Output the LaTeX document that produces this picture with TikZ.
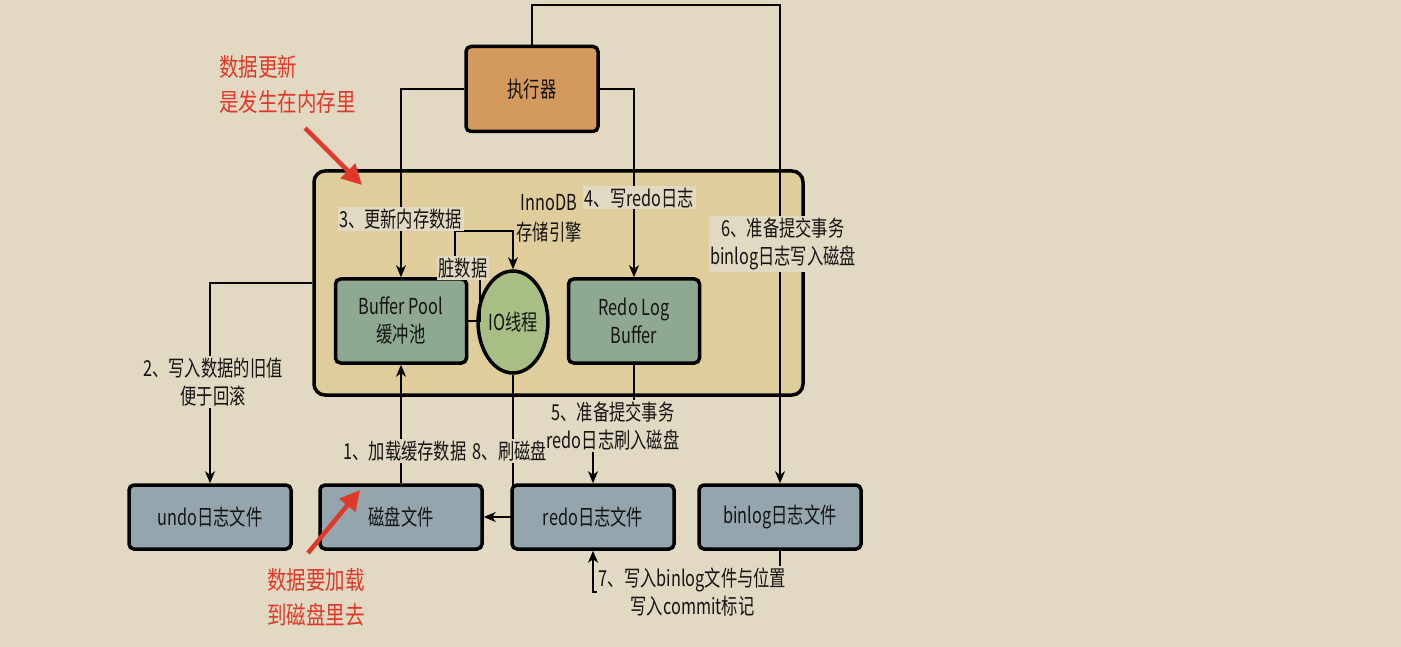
\documentclass[tikz,border=0pt]{standalone}
\usepackage{fontspec}
\setmainfont{Noto Sans CJK SC}[FakeStretch=0.74]
\newfontfamily\notefont{Noto Sans CJK SC}[FakeStretch=0.78]
\usetikzlibrary{arrows.meta,shapes.geometric}

\definecolor{pagebg}{HTML}{E1D9C1}
\definecolor{enginefill}{HTML}{DFCD9B}
\definecolor{execfill}{HTML}{D4995D}
\definecolor{memfill}{HTML}{8FA891}
\definecolor{iofill}{HTML}{A9BE84}
\definecolor{filefill}{HTML}{95A5AE}
\definecolor{notered}{HTML}{E0392B}
\definecolor{ink}{HTML}{141414}

\tikzset{
  txt/.style={text=ink, align=center, font=\fontsize{22}{28}\selectfont},
  box/.style={txt, draw=black, line width=3.5pt, rounded corners=5pt, inner sep=0pt},
  membox/.style={box, fill=memfill, minimum width=131pt, minimum height=84pt},
  filebox/.style={box, fill=filefill, minimum width=162pt, minimum height=64pt},
  link/.style={line width=1.5pt, draw=black},
  arrow/.style={link, -{Stealth[length=12pt,width=10pt,inset=3.5pt]}},
  tag/.style={txt, fill=pagebg, inner sep=1.5pt},
  note/.style={text=notered, align=left, inner sep=0pt,
    font=\notefont\fontsize{25}{35}\selectfont},
  notearrow/.style={draw=notered, line width=4.5pt,
    -{Triangle[length=20pt,width=20pt]}},
}

\begin{document}
\begin{tikzpicture}[x=1pt, y=-1pt]
  \useasboundingbox (0,0) rectangle (1401,647);
  \fill[pagebg] (0,0) rectangle (1401,647);

  % storage engine container
  \node[draw=black, line width=3.5pt, rounded corners=11pt, fill=enginefill,
        minimum width=489pt, minimum height=224pt, inner sep=0pt]
        (engine) at (558.5,283) {};
  \node[txt, inner sep=0pt, font=\fontsize{22}{30}\selectfont]
        (enginetitle) at (549,218) {InnoDB\\存储引擎};

  % executor
  \node[box, fill=execfill, minimum width=132pt, minimum height=85pt]
        (exec) at (532,89) {执行器};

  % in-memory structures
  \node[membox] (bp) at (401,321) {Buffer Pool\\缓冲池};
  \node[txt, draw=black, line width=3.5pt, ellipse, fill=iofill, minimum width=64pt,
        minimum height=102pt, inner sep=0pt] (io) at (513,322) {IO线程};
  \node[membox] (rlb) at (634,321) {Redo Log\\Buffer};

  % files on disk
  \node[filebox] (undo)   at (210,517) {undo日志文件};
  \node[filebox] (disk)   at (401,517) {磁盘文件};
  \node[filebox] (redo)   at (593,517) {redo日志文件};
  \node[filebox] (binlog) at (780,517) {binlog日志文件};

  % connectors
  \coordinate (topR) at (780,5);
  \coordinate (c7) at (593,592);
  \draw[arrow] (exec.west) -| (bp.north);
  \draw[arrow] (exec.east) -| (rlb.north);
  \draw[arrow] (exec.north) |- (topR) -- (binlog.north);
  \draw[arrow] (engine.west) -| (undo.north);
  \draw[arrow] (disk.north) -- (bp.south);
  \draw[arrow] (io.south) |- (disk.east);
  \draw[arrow] (bp.east) -| (480,268) -| (455,231) -| (io.north);
  \draw[arrow] (rlb.south) -- (634,427) -| (redo.north);
  \draw[arrow] (binlog.south) |- (c7) -- (redo.south);

  % step labels
  \node[tag] (l3) at (400.5,219) {3、更新内存数据};
  \node[tag] (ldirty) at (463,268) {脏数据};
  \node[tag] (l4) at (639.5,198) {4、写redo日志};
  \node[tag] (l6) at (783,244) {6、准备提交事务\\binlog日志写入磁盘};
  \node[tag] (l2) at (213,382) {2、写入数据的旧值\\便于回滚};
  \node[tag] (l1) at (405,451) {1、加载缓存数据};
  \node[tag] (l8) at (510,451) {8、刷磁盘};
  \node[tag] (l5) at (613,426) {5、准备提交事务\\redo日志刷入磁盘};
  \node[tag] (l7) at (692.5,592) {7、写入binlog文件与位置\\写入commit标记};

  % red remarks
  \node[note, anchor=north west] (n1) at (219,55) {数据更新\\是发生在内存里};
  \coordinate (n1from) at (305,128);
  \coordinate (n1to) at (362,185);
  \draw[notearrow] (n1from) -- (n1to);

  \node[note, anchor=north west] (n2) at (267,568) {数据要加载\\到磁盘里去};
  \coordinate (n2from) at (308,553);
  \coordinate (n2to) at (360,490);
  \draw[notearrow] (n2from) -- (n2to);
\end{tikzpicture}
\end{document}
